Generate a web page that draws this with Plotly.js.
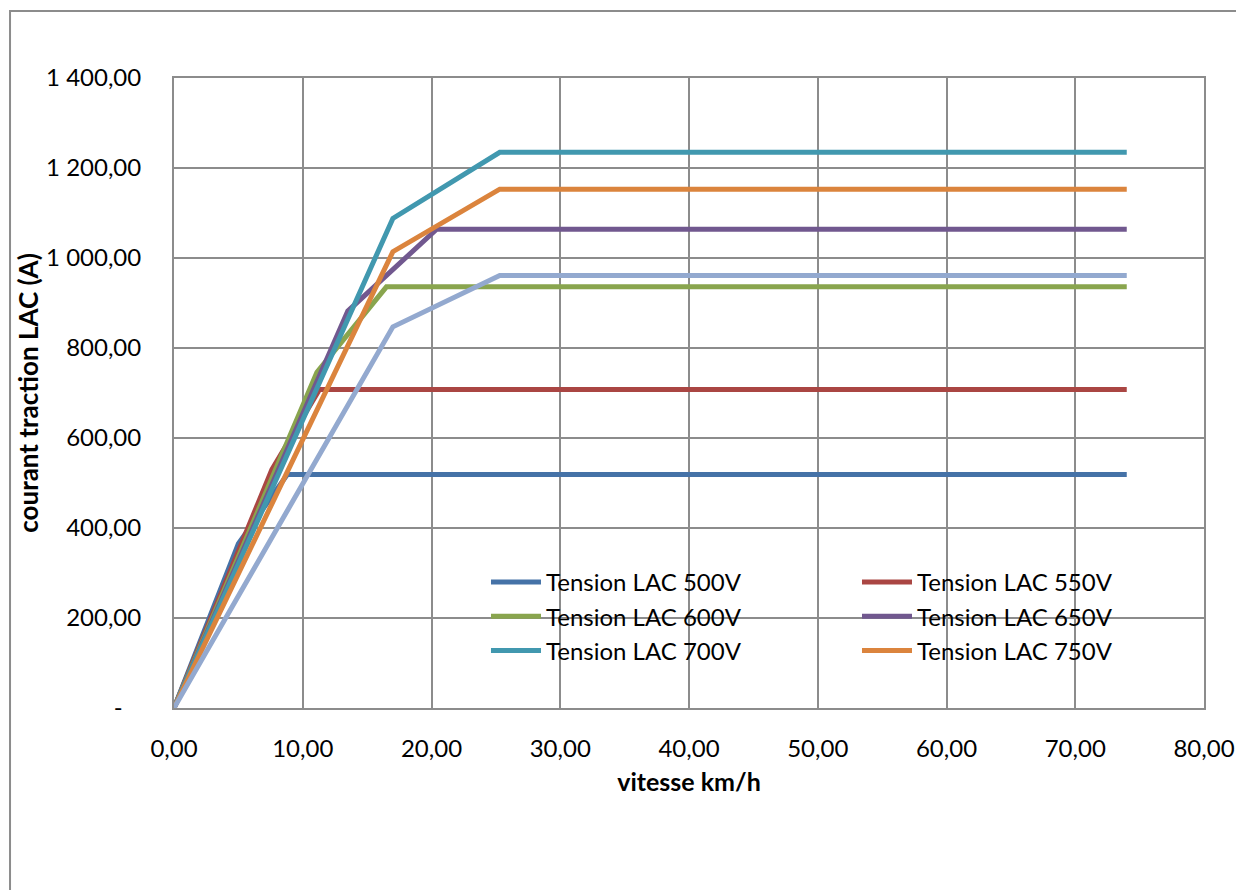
<!DOCTYPE html>
<html>
<head>
<meta charset="utf-8">
<script src="https://cdn.plot.ly/plotly-3.0.1.min.js"></script>
<style>
  html, body { margin: 0; padding: 0; background: #ffffff; }
  #chart { width: 1236px; height: 890px; }
</style>
</head>
<body>
<div id="chart"></div>
<script>
// ---- data ----
const seriesNames = ["Tension LAC 500V", "Tension LAC 550V", "Tension LAC 600V",
                     "Tension LAC 650V", "Tension LAC 700V", "Tension LAC 750V", "Tension LAC 800V"];
const x500 = [0, 5.0, 8.8, 74];   const y500 = [0, 365, 519, 519];
const x550 = [0, 7.6, 11.3, 74];  const y550 = [0, 530, 708, 708];
const x600 = [0, 11.1, 16.5, 74]; const y600 = [0, 746, 936, 936];
const x650 = [0, 13.5, 20.4, 74]; const y650 = [0, 882, 1064, 1064];
const x700 = [0, 17.0, 25.3, 74]; const y700 = [0, 1088, 1235, 1235];
const x750 = [0, 17.0, 25.3, 74]; const y750 = [0, 1014, 1153, 1153];
const x800 = [0, 17.0, 25.3, 74]; const y800 = [0, 847, 961, 961];

const xTickVals = [0, 10, 20, 30, 40, 50, 60, 70, 80];
const xTickText = ["0,00", "10,00", "20,00", "30,00", "40,00", "50,00", "60,00", "70,00", "80,00"];
const yTickVals = [0, 200, 400, 600, 800, 1000, 1200, 1400];
const yTickText = ["-\u00a0\u00a0\u00a0", "200,00", "400,00", "600,00", "800,00", "1 000,00", "1 200,00", "1 400,00"];

const xTitle = "vitesse km/h";
const yTitle = "courant traction LAC (A)";

// ---- styles ----
const colors = ["#4572A7", "#AA4643", "#89A54E", "#71588F", "#4198AF", "#DB843D", "#93A9CF"];
const legendOf = ["legend", "legend2", "legend", "legend2", "legend", "legend2", "legend"];
const showLeg = [true, true, true, true, true, true, false];
const xs = [x500, x550, x600, x650, x700, x750, x800];
const ys = [y500, y550, y600, y650, y700, y750, y800];

const FONT = "Lato, 'Open Sans', sans-serif";
const GRID = "#8c8c8c";

const traces = seriesNames.map((n, i) => ({
  type: "scatter",
  mode: "lines",
  name: n,
  x: xs[i],
  y: ys[i],
  line: { color: colors[i], width: 5 },
  legend: legendOf[i],
  showlegend: showLeg[i],
  hoverinfo: "x+y+name"
}));

const legendCommon = {
  orientation: "v",
  bgcolor: "rgba(0,0,0,0)",
  borderwidth: 0,
  font: { family: FONT, size: 24, color: "#000000" },
  xanchor: "left",
  yanchor: "top",
  itemwidth: 50,
  traceorder: "normal"
};

const layout = {
  width: 1236,
  height: 890,
  margin: { l: 174, r: 32, t: 78, b: 182 },
  paper_bgcolor: "#ffffff",
  plot_bgcolor: "#ffffff",
  font: { family: FONT, size: 24, color: "#000000" },
  showlegend: true,
  xaxis: {
    range: [0, 80],
    tickvals: xTickVals,
    ticktext: xTickText,
    showgrid: true,
    gridcolor: GRID,
    gridwidth: 2,
    zeroline: false,
    showline: true,
    linecolor: GRID,
    linewidth: 2,
    mirror: true,
    ticks: "outside",
    ticklen: 18,
    tickcolor: "rgba(0,0,0,0)",
    tickfont: { family: FONT, size: 24, color: "#000000" },
    title: { text: xTitle, font: { family: FONT, size: 25, color: "#000000", weight: "bold" }, standoff: 13 }
  },
  yaxis: {
    range: [0, 1400],
    tickvals: yTickVals,
    ticktext: yTickText,
    showgrid: true,
    gridcolor: GRID,
    gridwidth: 2,
    zeroline: false,
    showline: true,
    linecolor: GRID,
    linewidth: 2,
    mirror: true,
    ticks: "outside",
    ticklen: 26,
    tickcolor: "rgba(0,0,0,0)",
    tickfont: { family: FONT, size: 24, color: "#000000" },
    title: { text: yTitle, font: { family: FONT, size: 26, color: "#000000", weight: "bold" }, standoff: 0 }
  },
  legend: Object.assign({}, legendCommon, { x: 0.3029, y: 0.235 }),
  legend2: Object.assign({}, legendCommon, { x: 0.6631, y: 0.235 }),
  shapes: [{
    type: "rect", xref: "paper", yref: "paper",
    x0: -0.1592, x1: 1.04, y0: -0.30, y1: 1.1063,
    line: { color: "#8c8c8c", width: 2 },
    fillcolor: "rgba(0,0,0,0)",
    layer: "below"
  }]
};

Plotly.newPlot("chart", traces, layout, { displayModeBar: false, staticPlot: true });
</script>
</body>
</html>
